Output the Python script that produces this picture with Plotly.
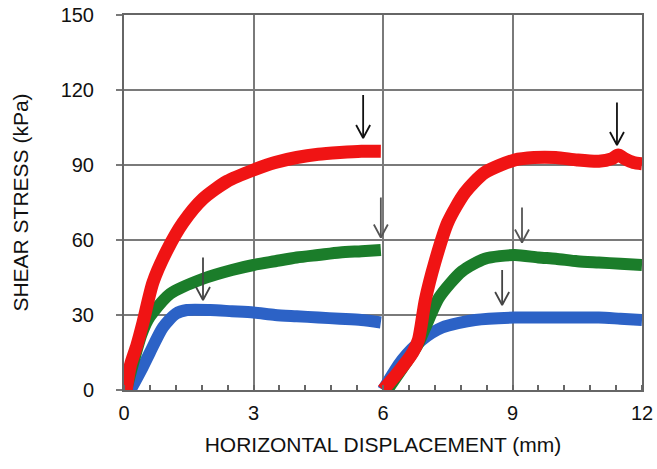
import plotly.graph_objects as go

# Shear stress vs horizontal displacement, two loading stages (0-6 mm, 6-12 mm)
red_x1 = [0.05, 0.15, 0.3, 0.44, 0.67, 1.0, 1.37, 1.83, 2.39, 3.0, 3.5, 4.0, 4.5, 5.0, 5.5, 5.95]
red_y1 = [0, 10, 18, 27, 43, 56, 67, 76.5, 83.5, 88, 91, 93, 94.3, 95, 95.5, 95.5]
red_x2 = [6.0, 6.3, 6.69, 6.82, 6.98, 7.2, 7.5, 7.9, 8.36, 9.05, 9.5, 10.0, 10.5, 11.0, 11.3, 11.45, 11.6, 11.8, 12.0]
red_y2 = [0, 6, 15, 20, 36, 51, 67, 79, 87, 92, 93, 93, 92, 91.5, 92.5, 94, 92.5, 91, 90.5]

green_x1 = [0.05, 0.2, 0.4, 0.55, 0.67, 1.07, 1.83, 2.5, 3.0, 3.5, 4.0, 4.5, 5.0, 5.5, 5.95]
green_y1 = [0, 10, 22, 28, 31, 38.5, 44.5, 48, 50, 51.5, 53, 54, 55, 55.5, 56]
green_x2 = [6.1, 6.5, 6.8, 6.98, 7.3, 7.83, 8.36, 9.05, 9.6, 10.0, 10.5, 11.0, 11.5, 12.0]
green_y2 = [0, 10, 18, 25, 37, 47.5, 52.5, 54, 53, 52.5, 51.5, 51, 50.5, 50]

blue_x1 = [0.15, 0.4, 0.6, 0.9, 1.2, 1.46, 2.0, 2.5, 3.0, 3.5, 4.0, 4.5, 5.0, 5.5, 5.95]
blue_y1 = [0, 8, 15, 25, 30.5, 32, 32, 31.5, 31, 30, 29.5, 29, 28.5, 28, 27]
blue_x2 = [6.0, 6.44, 6.9, 7.37, 8.13, 9.05, 10.0, 11.0, 11.5, 12.0]
blue_y2 = [0, 12, 20, 25, 28, 29, 29, 29, 28.5, 28]

# Peak markers (downward arrows): x position, tail stress, tip stress
arrow_x = [1.83, 5.54, 5.95, 8.76, 9.22, 11.42]
arrow_tail = [53, 118, 77, 48, 73, 115]
arrow_tip = [36, 100.8, 61, 34, 59, 98]
arrow_color = ["#444444", "#111111", "#555555", "#444444", "#555555", "#111111"]

x_ticks = [0, 3, 6, 9, 12]
y_ticks = [0, 30, 60, 90, 120, 150]

series = [
    ("blue", "#2c62c6", 12, blue_x1, blue_y1, blue_x2, blue_y2),
    ("green", "#1b7d2a", 12, green_x1, green_y1, green_x2, green_y2),
    ("red", "#f01414", 13, red_x1, red_y1, red_x2, red_y2),
]

fig = go.Figure()
for name, color, width, x1, y1, x2, y2 in series:
    fig.add_trace(go.Scatter(
        x=x1 + [None] + x2, y=y1 + [None] + y2, mode="lines", name=name,
        line=dict(color=color, width=width, shape="spline", smoothing=0.7),
        connectgaps=False, showlegend=False, hoverinfo="skip"))

# Open V-shaped arrowheads sized in pixels, converted to data units
px_per_mm = (657 - 124 - 15) / 12.0
px_per_kpa = (469 - 15 - 79) / 150.0
head_w = 7 / px_per_mm
head_h = 13 / px_per_kpa
for x, top, tip, col in zip(arrow_x, arrow_tail, arrow_tip, arrow_color):
    fig.add_trace(go.Scatter(
        x=[x, x, None, x - head_w, x, x + head_w],
        y=[top, tip, None, tip + head_h, tip, tip + head_h],
        mode="lines", line=dict(color=col, width=1.8),
        showlegend=False, hoverinfo="skip"))

font = "Liberation Sans, Arial, sans-serif"
fig.update_layout(
    width=657, height=469,
    margin=dict(l=124, r=15, t=15, b=79, autoexpand=False),
    paper_bgcolor="white", plot_bgcolor="white",
    font=dict(family=font, color="#111111"),
)
fig.update_xaxes(
    range=[0, 12], tickvals=x_ticks, ticktext=[str(v) for v in x_ticks],
    showgrid=True, gridcolor="#7a7a7a", gridwidth=2,
    showline=True, linecolor="#666666", linewidth=2, mirror=True,
    ticks="", zeroline=False, automargin=False, ticklabelstandoff=4,
    minor=dict(dtick=0.6, ticks="inside", ticklen=5, tickcolor="#666666", tickwidth=1.5, showgrid=False),
    tickfont=dict(size=20),
    title=dict(text="HORIZONTAL DISPLACEMENT (mm)", font=dict(size=21), standoff=14),
)
fig.update_yaxes(
    range=[0, 150], tickvals=y_ticks, ticktext=[str(v) for v in y_ticks],
    showgrid=True, gridcolor="#7a7a7a", gridwidth=2,
    showline=True, linecolor="#666666", linewidth=2, mirror=True,
    ticks="outside", ticklen=6, tickcolor="#7a7a7a", tickwidth=2, zeroline=False,
    automargin=False, ticklabelstandoff=18,
    tickfont=dict(size=20),
    title=dict(text="SHEAR STRESS (kPa)", font=dict(size=21), standoff=26),
)

fig.write_html("out.html")
